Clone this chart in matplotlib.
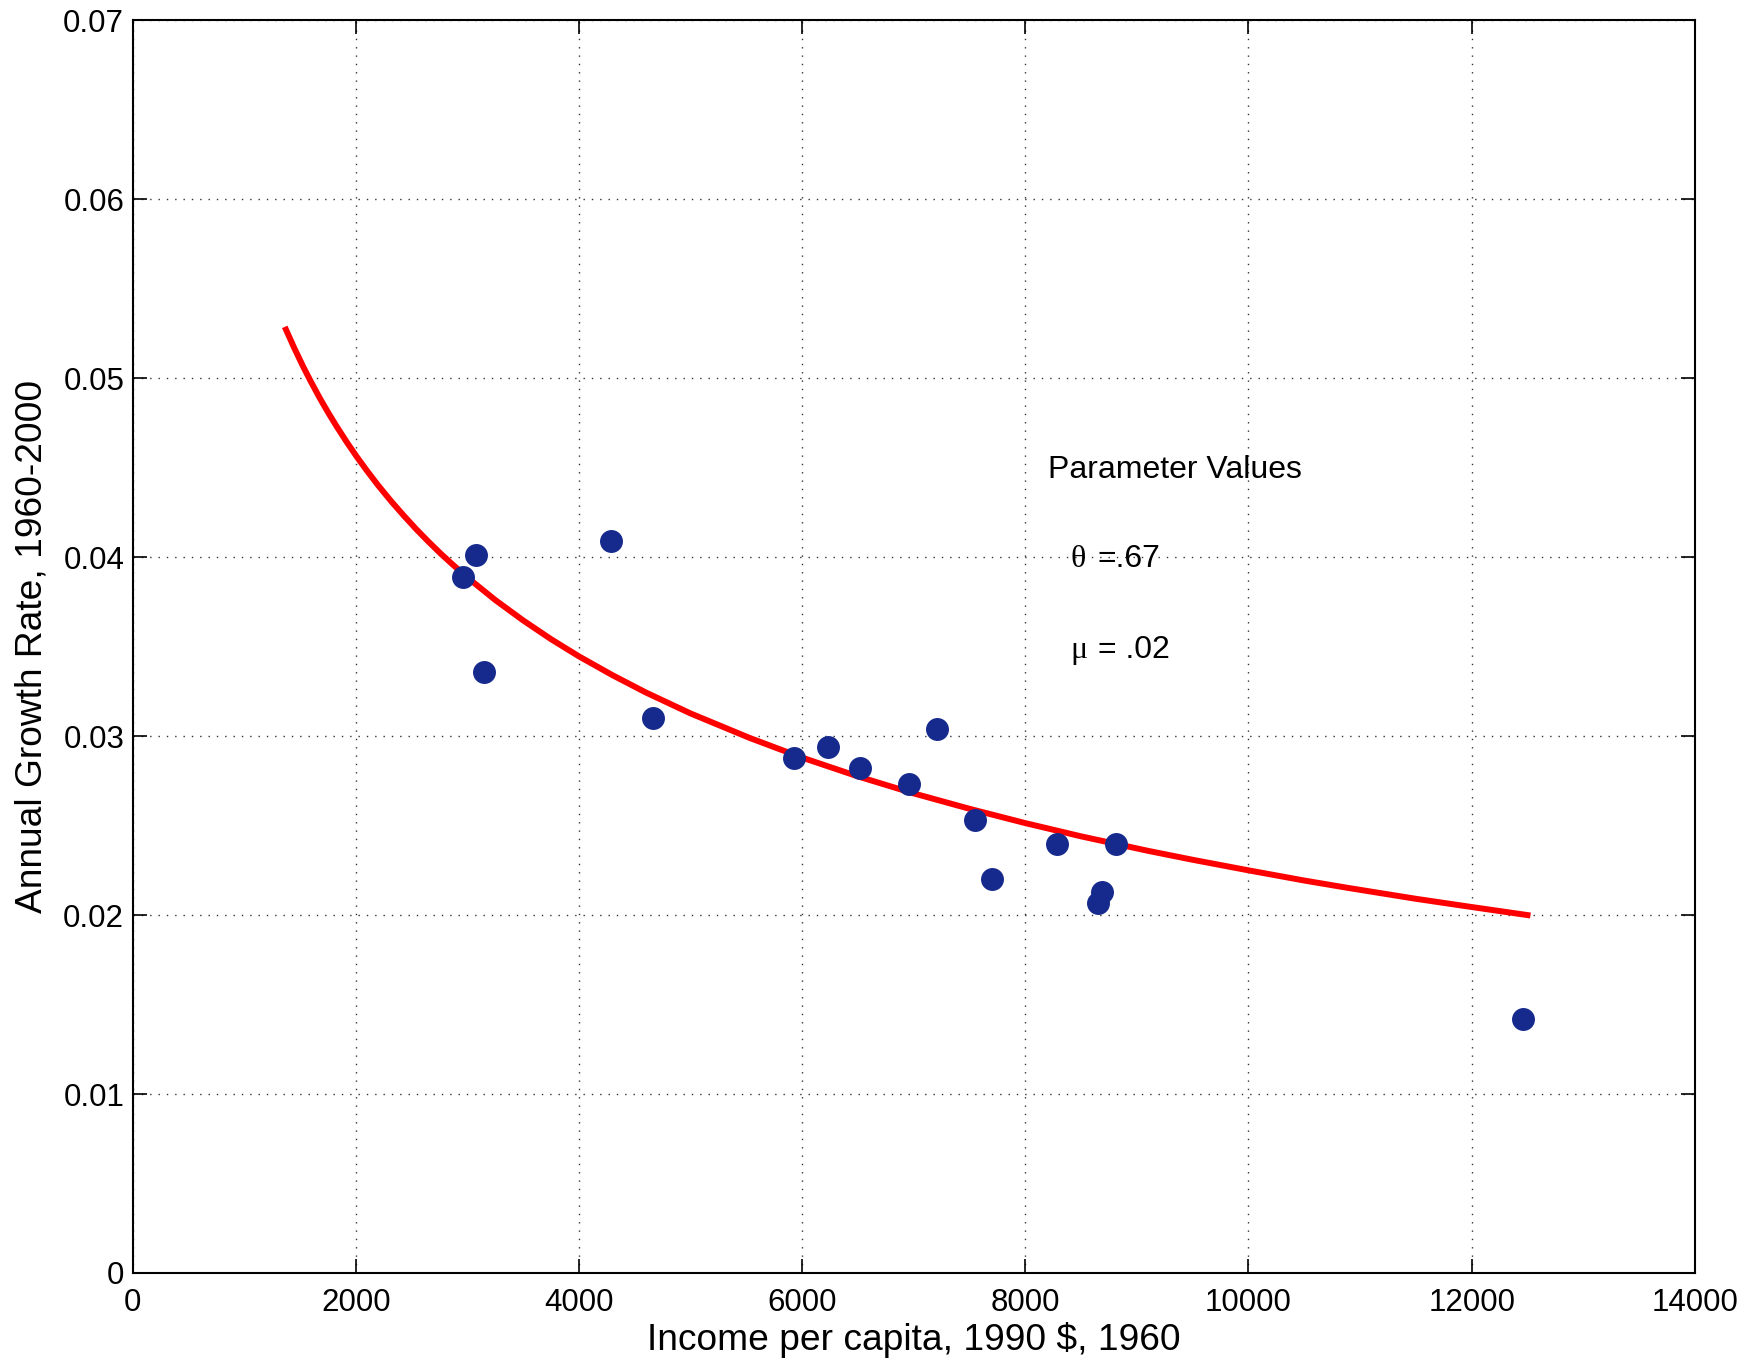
import matplotlib

matplotlib.use("Agg")
import matplotlib.pyplot as plt

plt.rcParams["font.family"] = ["Liberation Sans", "DejaVu Sans"]

# country observations (income 1960, growth 1960-2000)
income = [2957, 3078, 3148, 4285, 4667, 5924, 6236, 6517, 6960, 7211,
          7553, 7704, 8288, 8650, 8690, 8811, 12461]
growth = [0.0389, 0.0401, 0.0336, 0.0409, 0.0310, 0.0288, 0.0294, 0.0282,
          0.0273, 0.0304, 0.0253, 0.0220, 0.0240, 0.0207, 0.0213, 0.0240,
          0.0142]

# model curve
curve_x = [1375, 1450, 1530, 1600, 1680, 1760, 1830, 1920, 2010, 2100,
           2200, 2320, 2430, 2540, 2650, 2760, 2860, 3000, 3250, 3500,
           3750, 4000, 4300, 4600, 5000, 5530, 6000, 6500, 7000, 7500,
           8000, 8500, 9100, 9500, 10000, 10500, 10900, 11500, 12000, 12500]
curve_y = [0.05272, 0.05168, 0.05064, 0.04979, 0.04887, 0.04801, 0.04730,
           0.04643, 0.04561, 0.04484, 0.04402, 0.04311, 0.04233, 0.04158,
           0.04088, 0.04021, 0.03964, 0.03887, 0.03761, 0.03647, 0.03542,
           0.03446, 0.03341, 0.03244, 0.03127, 0.02990, 0.02880, 0.02775,
           0.02680, 0.02594, 0.02514, 0.02440, 0.02359, 0.02309, 0.02250,
           0.02193, 0.02151, 0.02091, 0.02045, 0.02000]

fig = plt.figure(figsize=(17.6, 13.61), dpi=100)
ax = fig.add_axes([0.0753, 0.0647, 0.8877, 0.9203])

ax.plot(curve_x, curve_y, color="#ff0000", linewidth=4.3, zorder=3,
        solid_joinstyle="round")
ax.plot(income, growth, linestyle="none", marker="o", markersize=15.5,
        color="#152a8c", markeredgecolor="#152a8c", zorder=4)

ax.set_xlim(0, 14000)
ax.set_ylim(0, 0.07)
ax.set_xticks(range(0, 14001, 2000))
ax.set_yticks([0, 0.01, 0.02, 0.03, 0.04, 0.05, 0.06, 0.07])
ax.set_yticklabels(["0", "0.01", "0.02", "0.03", "0.04", "0.05", "0.06", "0.07"])

ax.grid(True, linestyle=(0, (1, 5)), color="black", linewidth=1.0, alpha=0.8)
ax.tick_params(direction="in", length=10, width=1.2, top=True, right=True,
               labelsize=22.5)
ax.tick_params(axis="x", pad=11)
ax.tick_params(axis="y", pad=6)
for sp in ax.spines.values():
    sp.set_linewidth(1.5)

ax.set_xlabel("Income per capita, 1990 $, 1960", fontsize=26.7, labelpad=3)
ax.set_ylabel("Annual Growth Rate, 1960-2000", fontsize=26.7, labelpad=10)

ax.text(8207, 0.0449, "Parameter Values", fontsize=23, va="center")
ax.text(8408, 0.0399, "θ", fontsize=23, va="center", family="Liberation Serif")
ax.text(8650, 0.0399, "=.67", fontsize=23, va="center")
ax.text(8408, 0.0348, "μ", fontsize=23, va="center", family="Liberation Serif")
ax.text(8650, 0.0348, "= .02", fontsize=23, va="center")

fig.savefig("out.png", dpi=100)
